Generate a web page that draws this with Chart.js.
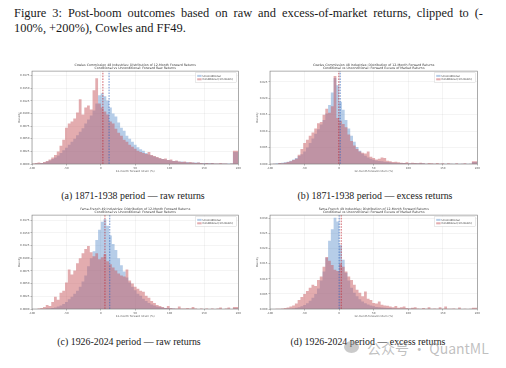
<!DOCTYPE html>
<html lang="en">
<head>
<meta charset="UTF-8">
<title>Figure 3</title>
<style>
  body { margin: 0; background: #fff; }
  #page { position: relative; width: 506px; height: 368px; overflow: hidden; font-family: "Liberation Serif", serif; color: #1a1a1a; }
  .cap { position: absolute; white-space: nowrap; font-size: 12.4px; }
  #cap1 { left: 14px; top: 6px; width: 469px; text-align: justify; text-align-last: justify; }
  #cap2 { left: 14px; top: 21px; }
  .sub { position: absolute; font-size: 9.9px; white-space: nowrap; transform: translate(-50%, -50%); }
  canvas { position: absolute; }
  #wm { position: absolute; left: 367px; top: 338px; font-family: "Noto Sans CJK SC", sans-serif; font-size: 14px; color: rgba(150,150,150,0.6); white-space: nowrap; }
  #wmIcon { position: absolute; left: 344px; top: 341px; width: 15px; height: 12px; border-radius: 50%; background: rgba(150,150,150,0.5); }
</style>
<script src="https://cdn.jsdelivr.net/npm/chart.js"></script>
</head>
<body>
<div id="page">
  <div class="cap" id="cap1">Figure 3: Post-boom outcomes based on raw and excess-of-market returns, clipped to (-</div>
  <div class="cap" id="cap2">100%, +200%), Cowles and FF49.</div>

  <canvas id="chartA" width="224" height="113" style="left:18px; top:61px;"></canvas>
  <canvas id="chartB" width="225" height="113" style="left:256px; top:61px;"></canvas>
  <canvas id="chartC" width="224" height="114" style="left:18px; top:205px;"></canvas>
  <canvas id="chartD" width="225" height="114" style="left:256px; top:205px;"></canvas>

  <div class="sub" style="left:133px; top:195px;">(a) 1871-1938 period — raw returns</div>
  <div class="sub" style="left:375px; top:195px;">(b) 1871-1938 period — excess returns</div>
  <div class="sub" style="left:129px; top:341px;">(c) 1926-2024 period — raw returns</div>
  <div class="sub" style="left:368px; top:341px;">(d) 1926-2024 period — excess returns</div>

  <div id="wmIcon"></div>
  <div id="wm">公众号 · QuantML</div>
</div>

<script>
  // 4% bins from -100% to +200%: left edges, plus the closing edge at 200
  const binEdges = [
    -100, -96, -92, -88, -84, -80, -76, -72, -68, -64,
    -60, -56, -52, -48, -44, -40, -36, -32, -28, -24,
    -20, -16, -12, -8, -4, 0, 4, 8, 12, 16,
    20, 24, 28, 32, 36, 40, 44, 48, 52, 56,
    60, 64, 68, 72, 76, 80, 84, 88, 92, 96,
    100, 104, 108, 112, 116, 120, 124, 128, 132, 136,
    140, 144, 148, 152, 156, 160, 164, 168, 172, 176,
    180, 184, 188, 192, 196, 200
  ];

  const xTicks = [-100, -50, 0, 50, 100, 150, 200];
  const yTicksRaw = [0, 0.0025, 0.005, 0.0075, 0.01, 0.0125, 0.015, 0.0175];
  const yTicksCowlesExcess = [0, 0.005, 0.01, 0.015, 0.02, 0.025];
  const yTicksFFExcess = [0, 0.005, 0.01, 0.015, 0.02, 0.025, 0.03];

  const legendLabels = ['Unconditional', 'Conditional (1m boom)'];

  const titlesTop = [
    'Cowles Commission 48 Industries: Distribution of 12-Month Forward Returns',
    'Cowles Commission 48 Industries: Distribution of 12-Month Forward Returns',
    'Fama-French 49 Industries: Distribution of 12-Month Forward Returns',
    'Fama-French 49 Industries: Distribution of 12-Month Forward Returns'
  ];
  const titlesSub = [
    'Conditional vs Unconditional: Forward Raw Returns',
    'Conditional vs Unconditional: Forward Excess of Market Returns',
    'Conditional vs Unconditional: Forward Raw Returns',
    'Conditional vs Unconditional: Forward Excess of Market Returns'
  ];

  // mean lines (%), order a, b, c, d
  const meanUncond = [12, 1.5, 13, 0];
  const meanCond = [3, -0.5, 6, 3];

  // (a) Cowles, raw
  const cowlesRawUncond = [
    0, 0, 0.0001, 0.0001, 0.0002, 0.0003, 0.0005, 0.0007, 0.0010, 0.0013,
    0.0017, 0.0022, 0.0027, 0.0032, 0.0038, 0.0044, 0.0050, 0.0057, 0.0064, 0.0071,
    0.0080, 0.0088, 0.0096, 0.0106, 0.0120, 0.0136, 0.0140, 0.0134, 0.0126, 0.0112,
    0.0100, 0.0094, 0.0082, 0.0072, 0.0066, 0.0056, 0.0050, 0.0044, 0.0038, 0.0033,
    0.0029, 0.0026, 0.0022, 0.0019, 0.0017, 0.0015, 0.0013, 0.0011, 0.0010, 0.0009,
    0.0008, 0.0007, 0.0006, 0.0006, 0.0005, 0.0005, 0.0004, 0.0004, 0.0003, 0.0003,
    0.0003, 0.0003, 0.0002, 0.0002, 0.0002, 0.0002, 0.0002, 0.0001, 0.0001, 0.0001,
    0.0001, 0.0001, 0.0001, 0.0001, 0.0024
  ];
  const cowlesRawCond = [
    0, 0.0001, 0.0002, 0.0003, 0.0002, 0.0004, 0.0006, 0.0009, 0.0013, 0.0018,
    0.0025, 0.0036, 0.0048, 0.0072, 0.0080, 0.0084, 0.0090, 0.0102, 0.0128, 0.0098,
    0.0112, 0.0116, 0.0108, 0.0146, 0.0170, 0.0120, 0.0112, 0.0104, 0.0098, 0.0084,
    0.0080, 0.0070, 0.0062, 0.0056, 0.0048, 0.0044, 0.0038, 0.0034, 0.0030, 0.0026,
    0.0024, 0.0022, 0.0020, 0.0024, 0.0018, 0.0016, 0.0014, 0.0012, 0.0010, 0.0011,
    0.0008, 0.0009, 0.0006, 0.0007, 0.0005, 0.0004, 0.0005, 0.0003, 0.0004, 0.0003,
    0.0002, 0.0003, 0.0002, 0.0001, 0.0002, 0.0001, 0.0002, 0.0001, 0.0001, 0.0002,
    0.0001, 0.0001, 0, 0.0001, 0.0026
  ];

  // (b) Cowles, excess of market
  const cowlesExcUncond = [
    0, 0, 0.0001, 0.0002, 0.0003, 0.0004, 0.0005, 0.0007, 0.0010, 0.0014,
    0.0018, 0.0024, 0.0030, 0.0038, 0.0050, 0.0064, 0.0078, 0.0092, 0.0106, 0.0120,
    0.0134, 0.0154, 0.0180, 0.0218, 0.0262, 0.0240, 0.0190, 0.0165, 0.0134, 0.0108,
    0.0086, 0.0068, 0.0052, 0.0040, 0.0031, 0.0025, 0.0020, 0.0016, 0.0013, 0.0011,
    0.0009, 0.0008, 0.0007, 0.0006, 0.0005, 0.0004, 0.0004, 0.0003, 0.0003, 0.0003,
    0.0002, 0.0002, 0.0002, 0.0002, 0.0002, 0.0002, 0.0002, 0.0001, 0.0001, 0.0001,
    0.0001, 0.0001, 0.0001, 0.0001, 0.0001, 0.0001, 0.0001, 0.0001, 0.0001, 0.0001,
    0.0001, 0.0001, 0.0001, 0.0001, 0.0006
  ];
  const cowlesExcCond = [
    0, 0, 0.0001, 0, 0.0003, 0.0002, 0.0004, 0.0006, 0.0008, 0.0012,
    0.0016, 0.0028, 0.0046, 0.0064, 0.0074, 0.0086, 0.0096, 0.0108, 0.0124, 0.0128,
    0.0150, 0.0168, 0.0156, 0.0176, 0.0268, 0.0140, 0.0132, 0.0122, 0.0112, 0.0090,
    0.0070, 0.0056, 0.0046, 0.0038, 0.0034, 0.0032, 0.0038, 0.0022, 0.0018, 0.0014,
    0.0016, 0.0020, 0.0018, 0.0010, 0.0008, 0.0006, 0.0007, 0.0005, 0.0004, 0.0003,
    0.0005, 0.0002, 0.0004, 0.0003, 0.0002, 0.0004, 0.0002, 0.0001, 0.0003, 0.0002,
    0.0001, 0.0003, 0.0001, 0.0002, 0, 0.0002, 0.0001, 0, 0.0002, 0,
    0.0001, 0.0002, 0, 0.0001, 0.0008
  ];

  // (c) Fama-French 49, raw
  const ffRawUncond = [
    0, 0, 0, 0, 0, 0, 0.0001, 0.0001, 0.0002, 0.0003,
    0.0005, 0.0007, 0.0010, 0.0014, 0.0019, 0.0024, 0.0030, 0.0036, 0.0044, 0.0054,
    0.0066, 0.0084, 0.0100, 0.0114, 0.0136, 0.0156, 0.0172, 0.0177, 0.0164, 0.0145,
    0.0128, 0.0116, 0.0100, 0.0086, 0.0074, 0.0062, 0.0052, 0.0044, 0.0037, 0.0030,
    0.0026, 0.0020, 0.0016, 0.0012, 0.0009, 0.0007, 0.0005, 0.0004, 0.0003, 0.0002,
    0.0002, 0.0001, 0.0001, 0, 0, 0, 0, 0, 0, 0,
    0, 0, 0, 0, 0, 0, 0, 0, 0, 0,
    0, 0, 0, 0, 0.0001
  ];
  const ffRawCond = [
    0, 0, 0, 0.0001, 0.0002, 0.0004, 0.0008, 0.0006, 0.0014, 0.0024,
    0.0018, 0.0032, 0.0036, 0.0052, 0.0078, 0.0068, 0.0076, 0.0090, 0.0100, 0.0110,
    0.0118, 0.0124, 0.0112, 0.0104, 0.0110, 0.0098, 0.0102, 0.0108, 0.0094, 0.0088,
    0.0082, 0.0076, 0.0070, 0.0066, 0.0064, 0.0078, 0.0056, 0.0050, 0.0044, 0.0040,
    0.0036, 0.0034, 0.0026, 0.0022, 0.0016, 0.0012, 0.0008, 0.0006, 0.0004, 0.0002,
    0.0006, 0.0002, 0.0001, 0.0001, 0.0005, 0.0001, 0.0001, 0.0002, 0.0001, 0.0004,
    0.0001, 0, 0.0001, 0, 0.0001, 0, 0.0001, 0, 0.0001, 0.0003,
    0, 0.0001, 0.0003, 0, 0.0004
  ];

  // (d) Fama-French 49, excess of market
  const ffExcUncond = [
    0, 0, 0, 0, 0, 0, 0, 0.0001, 0.0001, 0.0002,
    0.0004, 0.0006, 0.0009, 0.0013, 0.0019, 0.0027, 0.0037, 0.0050, 0.0068, 0.0094,
    0.0124, 0.0170, 0.0226, 0.0264, 0.0302, 0.0290, 0.0212, 0.0163, 0.0120, 0.0094,
    0.0070, 0.0054, 0.0042, 0.0032, 0.0025, 0.0019, 0.0015, 0.0012, 0.0009, 0.0007,
    0.0006, 0.0005, 0.0004, 0.0003, 0.0003, 0.0002, 0.0002, 0.0001, 0.0001, 0.0001,
    0.0001, 0.0001, 0.0001, 0, 0, 0, 0, 0, 0, 0,
    0, 0, 0, 0, 0, 0, 0, 0, 0, 0,
    0, 0, 0, 0, 0
  ];
  const ffExcCond = [
    0, 0, 0, 0.0001, 0.0001, 0.0002, 0.0003, 0.0005, 0.0008, 0.0012,
    0.0018, 0.0030, 0.0040, 0.0050, 0.0060, 0.0070, 0.0080, 0.0076, 0.0096, 0.0108,
    0.0140, 0.0172, 0.0160, 0.0146, 0.0130, 0.0126, 0.0150, 0.0140, 0.0124, 0.0108,
    0.0096, 0.0080, 0.0064, 0.0054, 0.0042, 0.0058, 0.0034, 0.0030, 0.0020, 0.0018,
    0.0025, 0.0014, 0.0012, 0.0011, 0.0008, 0.0006, 0.0010, 0.0004, 0.0006, 0.0008,
    0.0003, 0.0002, 0.0004, 0.0006, 0.0002, 0.0001, 0.0003, 0.0001, 0.0006, 0.0001,
    0.0002, 0.0001, 0.0006, 0.0001, 0.0008, 0.0001, 0.0001, 0.0002, 0, 0.0005,
    0, 0.0001, 0, 0.0001, 0.0004
  ];

  const BLUE = 'rgba(80, 135, 200, 0.42)';
  const RED = 'rgba(200, 90, 95, 0.5)';
  const BLUE_LINE = 'rgba(50, 100, 190, 0.9)';
  const RED_LINE = 'rgba(190, 40, 50, 0.9)';
  const tinyFont = { family: 'DejaVu Sans', size: 2.7 };

  // font size that makes `text` about `target` px wide
  function fitSize(ctx, text, target) {
    ctx.font = '10px "DejaVu Sans"';
    return 10 * target / ctx.measureText(text).width;
  }

  // titles centred on the axes, box around the axes, legend in the upper right corner
  const frameLegend = {
    id: 'frameLegend',
    afterDraw(chart) {
      const { ctx, chartArea: a } = chart;
      const k = chart.options.plugins.frameLegend.k;
      const cx = (a.left + a.right) / 2;
      ctx.save();

      const ts = fitSize(ctx, titlesTop[0], 122);
      ctx.font = ts + 'px "DejaVu Sans"';
      ctx.fillStyle = '#3a3a3a';
      ctx.textAlign = 'center';
      ctx.textBaseline = 'middle';
      ctx.fillText(titlesTop[k], cx, a.top - 6.1);
      ctx.fillText(titlesSub[k], cx, a.top - 2.7);

      ctx.strokeStyle = '#7a7a7a';
      ctx.lineWidth = 0.6;
      ctx.strokeRect(a.left, a.top, a.right - a.left, a.bottom - a.top);

      const ls = fitSize(ctx, legendLabels[1], 30.5);
      ctx.font = ls + 'px "DejaVu Sans"';
      const cols = [BLUE, RED];
      const tw = Math.max(...legendLabels.map(l => ctx.measureText(l).width));
      const w = tw + 11, h = 9.6;
      const x0 = a.right - w - 1.7, y0 = a.top + 1.7;
      ctx.fillStyle = 'rgba(255,255,255,0.85)';
      ctx.fillRect(x0, y0, w, h);
      ctx.strokeStyle = '#c8c8c8';
      ctx.lineWidth = 0.4;
      ctx.strokeRect(x0, y0, w, h);
      ctx.textAlign = 'left';
      legendLabels.forEach((label, i) => {
        const cy = y0 + 3.1 + i * 3.4;
        ctx.fillStyle = cols[i];
        ctx.fillRect(x0 + 1.7, cy - 1, 4.4, 2);
        ctx.fillStyle = '#333';
        ctx.fillText(label, x0 + 7.1, cy);
      });
      ctx.restore();
    }
  };

  // histogram drawn as a filled step line: y holds from each left edge to the next edge
  function steps(arr) {
    return binEdges.map((x, i) => ({ x, y: arr[Math.min(i, arr.length - 1)] }));
  }

  function histChart(id, k, unc, cond, yTicks, yMax, dec) {
    const histOpts = { stepped: 'after', fill: 'origin', borderWidth: 0, borderColor: 'rgba(0,0,0,0)', pointRadius: 0, tension: 0 };
    new Chart(document.getElementById(id), {
      type: 'line',
      data: {
        datasets: [
          { label: 'mean uncond', data: [{ x: meanUncond[k], y: 0 }, { x: meanUncond[k], y: yMax }],
            borderColor: BLUE_LINE, borderDash: [1.6, 1.2], borderWidth: 0.8, pointRadius: 0, fill: false, order: 0 },
          { label: 'mean cond', data: [{ x: meanCond[k], y: 0 }, { x: meanCond[k], y: yMax }],
            borderColor: RED_LINE, borderDash: [1.6, 1.2], borderWidth: 0.8, pointRadius: 0, fill: false, order: 0 },
          Object.assign({ label: legendLabels[1], data: steps(cond), backgroundColor: RED, order: 1 }, histOpts),
          Object.assign({ label: legendLabels[0], data: steps(unc), backgroundColor: BLUE, order: 2 }, histOpts)
        ]
      },
      options: {
        responsive: false,
        animation: false,
        events: [],
        layout: { padding: { left: 0, right: 3, top: 10.1, bottom: 0 } },
        plugins: {
          legend: { display: false },
          tooltip: { enabled: false },
          title: { display: false },
          frameLegend: { k: k }
        },
        scales: {
          x: {
            type: 'linear', min: -100, max: 200,
            afterBuildTicks: s => { s.ticks = xTicks.map(v => ({ value: v })); },
            afterFit: s => { s.height = 10; },
            ticks: { font: tinyFont, color: '#555', padding: 1, maxRotation: 0 },
            grid: { color: 'rgba(0,0,0,0.09)', lineWidth: 0.5, tickLength: 1.5, tickColor: '#777' },
            border: { display: false },
            title: { display: true, text: '12-month forward return (%)', font: tinyFont, color: '#555', padding: { top: 0, bottom: 1 } }
          },
          y: {
            min: 0, max: yMax,
            afterBuildTicks: s => { s.ticks = yTicks.map(v => ({ value: v })); },
            afterFit: s => { s.width = 14; },
            ticks: { font: tinyFont, color: '#555', padding: 1, callback: v => v.toFixed(dec) },
            grid: { color: 'rgba(0,0,0,0.09)', lineWidth: 0.5, tickLength: 1.5, tickColor: '#777' },
            border: { display: false },
            title: { display: true, text: 'Density', font: tinyFont, color: '#555', padding: { top: 0, bottom: 1.2 } }
          }
        }
      },
      plugins: [frameLegend]
    });
  }

  histChart('chartA', 0, cowlesRawUncond, cowlesRawCond, yTicksRaw, 0.0184, 4);
  histChart('chartB', 1, cowlesExcUncond, cowlesExcCond, yTicksCowlesExcess, 0.0283, 3);
  histChart('chartC', 2, ffRawUncond, ffRawCond, yTicksRaw, 0.0185, 4);
  histChart('chartD', 3, ffExcUncond, ffExcCond, yTicksFFExcess, 0.0311, 3);
</script>
</body>
</html>
